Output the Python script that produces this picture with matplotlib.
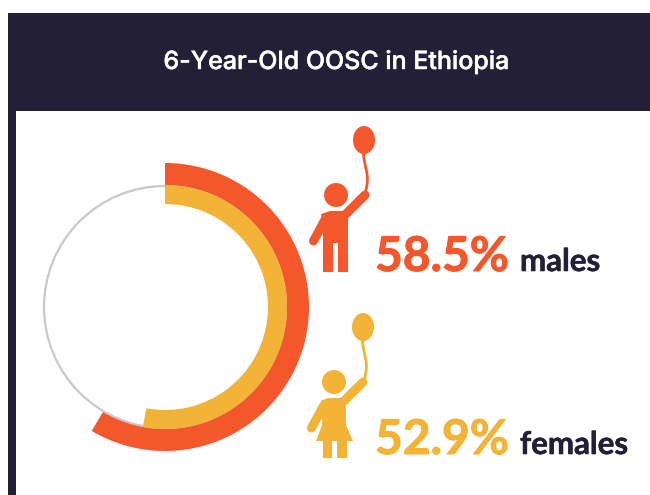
import matplotlib
matplotlib.use("Agg")
import matplotlib.pyplot as plt
import matplotlib.patheffects as pe
from matplotlib.patches import Rectangle, Circle, Ellipse, Polygon, PathPatch
from matplotlib.path import Path

# share of 6-year-olds out of school
groups = ["males", "females"]
percent = [58.5, 52.9]
title = "6-Year-Old OOSC in Ethiopia"

NAVY = "#231F36"
ORANGE = "#F5572D"
YELLOW = "#F2B336"
GREY = "#C9C9C9"

plt.rcParams["font.family"] = ["Lato", "DejaVu Sans"]

fig = plt.figure(figsize=(6.5, 4.95), dpi=100)
ax = fig.add_axes([0, 0, 1, 1])

cx, cy = 165, 307


def ring(value, color, radius, width):
    # y axis points down, so a positive sweep from -90 runs clockwise from the top
    ax.pie([value, 100 - value], colors=[color, "none"], startangle=-90,
           center=(cx, cy), radius=radius, wedgeprops=dict(width=width, linewidth=0))


# header bar and left rule
ax.add_patch(Rectangle((8, 13), 642, 98, color=NAVY, lw=0))
ax.add_patch(Rectangle((8, 111), 8, 384, color=NAVY, lw=0))
ax.text(336, 62, title, color="white", fontsize=18, fontweight="medium",
        family=["Inter", "DejaVu Sans"], ha="center", va="center",
        path_effects=[pe.withStroke(linewidth=0.3, foreground="white")])

# thin track under the two arcs
ax.add_patch(Circle((cx, cy), 121, fill=False, ec=GREY, lw=1.6))
ring(percent[0], ORANGE, 144, 22)
ring(percent[1], YELLOW, 122, 19)


def balloon(color, dx, dy):
    ax.add_patch(Ellipse((364 + dx, 140 + dy), 22, 28, color=color, lw=0))
    ax.add_patch(Polygon([(360 + dx, 152 + dy), (368 + dx, 152 + dy), (364 + dx, 156 + dy)],
                         color=color, lw=0))
    string = Path([(363.5 + dx, 153 + dy), (364 + dx, 168 + dy), (371 + dx, 175 + dy), (365 + dx, 193 + dy)],
                  [Path.MOVETO, Path.CURVE4, Path.CURVE4, Path.CURVE4])
    ax.add_patch(PathPatch(string, fill=False, ec=color, lw=2))


def arms(color, dx, dy):
    # raised arm holding the string, lowered arm with a round hand
    ax.plot([345 + dx, 365 + dx], [215 + dy, 195 + dy], color=color, lw=6.5,
            solid_capstyle="round")
    ax.plot([326 + dx, 313.5 + dx], [218 + dy, 241 + dy], color=color, lw=6.5,
            solid_capstyle="round")


def boy(color):
    balloon(color, 0, 0)
    ax.add_patch(Circle((336, 195), 12, color=color, lw=0))
    arms(color, 0, 0)
    ax.add_patch(Polygon([(330, 211), (348, 211), (348, 272), (338, 272), (338, 243),
                          (333, 243), (333, 272), (323, 272), (323, 225), (321, 214)],
                         color=color, lw=0))


def girl(color):
    dx, dy = -2, 187
    balloon(color, -1, dy)
    ax.add_patch(Circle((334, 382), 12, color=color, lw=0))
    arms(color, dx, dy)
    ax.add_patch(Polygon([(328, 398), (346, 398), (346, 425), (353, 441), (347, 441), (347, 458),
                          (337, 458), (337, 441), (332, 441), (332, 458), (323, 458), (323, 441),
                          (316, 441), (322, 425), (321, 401)],
                         color=color, lw=0))


boy(ORANGE)
girl(YELLOW)

# value and group labels
heavy = [pe.withStroke(linewidth=0.7, foreground=ORANGE)]
ax.text(375, 271, f"{percent[0]}%", color=ORANGE, fontsize=34.5, fontweight="bold",
        ha="left", va="baseline", path_effects=heavy)
ax.text(520, 271, groups[0], color=NAVY, fontsize=22.5, fontweight="bold",
        ha="left", va="baseline", path_effects=[pe.withStroke(linewidth=0.4, foreground=NAVY)])
heavy = [pe.withStroke(linewidth=0.7, foreground=YELLOW)]
ax.text(375, 454, f"{percent[1]}%", color=YELLOW, fontsize=34.5, fontweight="bold",
        ha="left", va="baseline", path_effects=heavy)
ax.text(520, 454, groups[1], color=NAVY, fontsize=22.5, fontweight="bold",
        ha="left", va="baseline", path_effects=[pe.withStroke(linewidth=0.4, foreground=NAVY)])

ax.set_xlim(0, 650)
ax.set_ylim(495, 0)
ax.axis("off")

fig.savefig("out.png", dpi=100)
